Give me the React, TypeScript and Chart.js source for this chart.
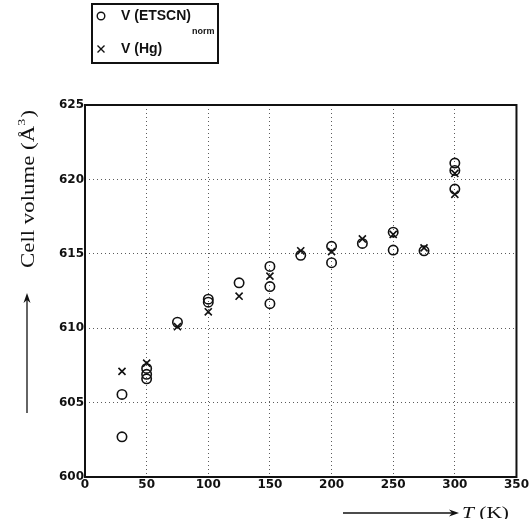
import React, { useEffect, useRef } from "react";
import { Chart, registerables } from "chart.js";

Chart.register(...registerables);

const etscnT = [30, 30, 50, 50, 50, 75, 100, 100, 125, 150, 150, 150, 175, 200, 200, 225, 250, 250, 275, 300, 300, 300];
const etscnV = [602.7, 605.55, 607.3, 606.9, 606.6, 610.4, 611.95, 611.75, 613.05, 614.15, 612.8, 611.65, 614.9, 615.5, 614.4, 615.7, 616.45, 615.25, 615.2, 621.1, 620.6, 619.35];
const hgT = [30, 50, 75, 100, 125, 150, 175, 200, 225, 250, 275, 300, 300];
const hgV = [607.1, 607.65, 610.1, 611.1, 612.15, 613.5, 615.2, 615.15, 616.0, 616.3, 615.4, 620.4, 619.0];

const xTicks = [0, 50, 100, 150, 200, 250, 300, 350];
const yTicks = [600, 605, 610, 615, 620, 625];

const legendLabels = ["V (ETSCN)", "V (Hg)"];
const legendSub = "norm";
const yTitleParts = ["Cell volume (Å", "3", ")"];
const xTitleParts = ["T", " (K)"];

const SERIF = '"Liberation Serif", "DejaVu Serif", serif';
const SANS = '"Liberation Sans", Arial, sans-serif';
const TICKFONT = '"DejaVu Sans", sans-serif';

function drawArrowHead(ctx: CanvasRenderingContext2D, x: number, y: number, dir: "up" | "right") {
  ctx.beginPath();
  if (dir === "up") {
    ctx.moveTo(x, y);
    ctx.lineTo(x - 3.5, y + 10);
    ctx.lineTo(x, y + 7);
    ctx.lineTo(x + 3.5, y + 10);
  } else {
    ctx.moveTo(x, y);
    ctx.lineTo(x - 10, y - 3.5);
    ctx.lineTo(x - 7, y);
    ctx.lineTo(x - 10, y + 3.5);
  }
  ctx.closePath();
  ctx.fill();
}

const decorPlugin = {
  id: "decor",
  afterDraw(chart: any) {
    const ctx: CanvasRenderingContext2D = chart.ctx;
    const a = chart.chartArea;
    ctx.save();
    // plot frame
    ctx.strokeStyle = "#111";
    ctx.lineWidth = 2;
    ctx.strokeRect(a.left, a.top, a.right - a.left, a.bottom - a.top);

    ctx.fillStyle = "#111";
    ctx.textBaseline = "alphabetic";

    // Y title (rotated)
    ctx.save();
    ctx.translate(34, 189);
    ctx.rotate(-Math.PI / 2);
    ctx.font = `18px ${SERIF}`;
    const w0 = ctx.measureText(yTitleParts[0]).width;
    ctx.font = `11px ${SERIF}`;
    const w1 = ctx.measureText(yTitleParts[1]).width;
    ctx.font = `18px ${SERIF}`;
    const w2 = ctx.measureText(yTitleParts[2]).width;
    const total = w0 + w1 + 1 + w2;
    const target = 158;
    const s = target / total;
    ctx.scale(s, 1);
    let cx = -total / 2;
    ctx.font = `18px ${SERIF}`;
    ctx.fillText(yTitleParts[0], cx, 0);
    cx += w0;
    ctx.font = `11px ${SERIF}`;
    ctx.fillText(yTitleParts[1], cx, -9);
    cx += w1 + 1;
    ctx.font = `18px ${SERIF}`;
    ctx.fillText(yTitleParts[2], cx, 0);
    ctx.restore();

    // Y arrow
    ctx.lineWidth = 1.3;
    ctx.beginPath();
    ctx.moveTo(27, 413);
    ctx.lineTo(27, 300);
    ctx.stroke();
    drawArrowHead(ctx, 27, 293, "up");

    // X arrow
    ctx.beginPath();
    ctx.moveTo(343, 513);
    ctx.lineTo(452, 513);
    ctx.stroke();
    drawArrowHead(ctx, 459, 513, "right");

    // X title
    ctx.save();
    ctx.translate(462, 518);
    ctx.font = `italic 17px ${SERIF}`;
    const tw0 = ctx.measureText(xTitleParts[0]).width;
    ctx.font = `17px ${SERIF}`;
    const tw1 = ctx.measureText(xTitleParts[1]).width;
    const xs = 47 / (tw0 + tw1);
    ctx.scale(xs, 1);
    ctx.font = `italic 17px ${SERIF}`;
    ctx.fillText(xTitleParts[0], 0, 0);
    ctx.font = `17px ${SERIF}`;
    ctx.fillText(xTitleParts[1], tw0, 0);
    ctx.restore();

    // Legend box
    ctx.lineWidth = 2;
    ctx.strokeRect(92, 4, 126, 59);
    // symbols
    ctx.lineWidth = 1.4;
    ctx.beginPath();
    ctx.arc(101, 16, 3.8, 0, Math.PI * 2);
    ctx.stroke();
    ctx.beginPath();
    ctx.moveTo(97.5, 45.5);
    ctx.lineTo(104.5, 52.5);
    ctx.moveTo(104.5, 45.5);
    ctx.lineTo(97.5, 52.5);
    ctx.stroke();
    ctx.font = `bold 14px ${SANS}`;
    ctx.textBaseline = "middle";
    ctx.fillText(legendLabels[0], 121, 16);
    const lw = ctx.measureText(legendLabels[0]).width;
    ctx.font = `bold 9px ${SANS}`;
    ctx.fillText(legendSub, 121 + lw + 1, 32);
    ctx.font = `bold 14px ${SANS}`;
    ctx.fillText(legendLabels[1], 121, 49);

    ctx.restore();
  },
};

export default function App() {
  const ref = useRef<HTMLCanvasElement | null>(null);

  useEffect(() => {
    document.body.style.margin = "0";
    const canvas = ref.current;
    if (!canvas) return;
    const grid = {
      color: "rgba(50,50,50,0.8)",
      lineWidth: 1,
      drawTicks: false,
      tickLength: 0,
    };
    const chart = new Chart(canvas, {
      type: "scatter",
      data: {
        datasets: [
          {
            label: legendLabels[0],
            data: etscnT.map((t, i) => ({ x: t, y: etscnV[i] })),
            pointStyle: "circle",
            pointRadius: 4.7,
            borderColor: "#111",
            backgroundColor: "rgba(255,255,255,0)",
            borderWidth: 1.6,
          },
          {
            label: legendLabels[1],
            data: hgT.map((t, i) => ({ x: t, y: hgV[i] })),
            pointStyle: "crossRot",
            pointRadius: 5,
            borderColor: "#111",
            backgroundColor: "#111",
            borderWidth: 1.6,
          },
        ],
      },
      options: {
        responsive: false,
        animation: false,
        layout: { padding: { left: 0, top: 105, right: 13, bottom: 0 } },
        plugins: {
          legend: { display: false },
          tooltip: { enabled: false },
        },
        scales: {
          x: {
            type: "linear",
            min: xTicks[0],
            max: xTicks[xTicks.length - 1],
            afterBuildTicks: (scale: any) => {
              scale.ticks = xTicks.map((v) => ({ value: v }));
            },
            afterFit: (scale: any) => {
              scale.height = 42;
            },
            border: { display: false, dash: [1, 3] },
            grid: grid as any,
            ticks: {
              padding: 1,
              color: "#111",
              font: { family: TICKFONT, size: 12, weight: "bold" },
              maxRotation: 0,
            },
          },
          y: {
            type: "linear",
            min: yTicks[0],
            max: yTicks[yTicks.length - 1],
            afterBuildTicks: (scale: any) => {
              scale.ticks = yTicks.map((v) => ({ value: v }));
            },
            afterFit: (scale: any) => {
              scale.width = 85;
            },
            border: { display: false, dash: [1, 3] },
            grid: grid as any,
            ticks: {
              padding: 1,
              color: "#111",
              font: { family: TICKFONT, size: 12, weight: "bold" },
            },
          },
        },
      },
      plugins: [decorPlugin],
    });
    return () => chart.destroy();
  }, []);

  return (
    <div style={{ position: "absolute", left: 0, top: 0, width: 530, height: 519, background: "#fff" }}>
      <canvas ref={ref} width={530} height={519} />
    </div>
  );
}
